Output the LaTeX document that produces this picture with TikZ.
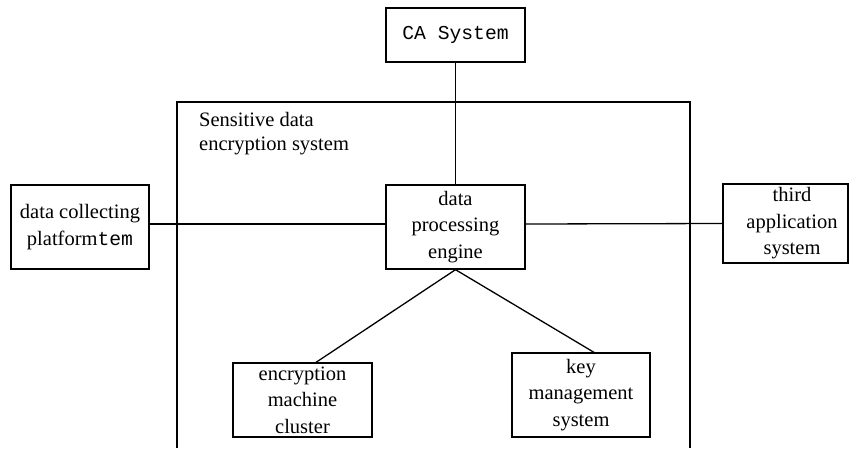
\documentclass[tikz,border=0pt]{standalone}
\usepackage{fontspec}
\setmainfont{Liberation Serif}
\newfontfamily\monofont{Liberation Mono}
\usetikzlibrary{calc}
\begin{document}
\begin{tikzpicture}[x=1pt,y=-1pt,
  box/.style={draw=black,line width=1.3pt,rectangle,inner sep=0pt,align=center,
    font=\fontsize{20.5}{26.5}\selectfont},
  plain/.style={inner sep=0pt,align=center,font=\fontsize{20.5}{26.5}\selectfont},
  conn/.style={draw=black,line width=1.3pt}]
\useasboundingbox (0,0) rectangle (849,448);
% container
\draw[conn] (177,448) -- (177,102) -- (690,102) -- (690,448);
\node[plain,align=left,anchor=north west,font=\fontsize{20.5}{24}\selectfont] (label) at (199,112) {Sensitive data\\encryption system};
% boxes
\node[box,minimum width=139,minimum height=54,font=\monofont\fontsize{19.7}{24}\selectfont] (ca) at (455.5,35) {CA System};
\node[box,minimum width=139,minimum height=84] (proc) at (455.5,227) {data\\processing\\engine};
\node[box,minimum width=138,minimum height=84] (coll) at (80,227) {data collecting\\platform{\monofont\fontsize{19.7}{24}\selectfont tem}};
\node[box,minimum width=125,minimum height=79] (third) at (785.5,223.5) {};
\node[plain] (thirdtext) at (792,223.5) {third\\application\\system};
\node[box,minimum width=139,minimum height=74] (enc) at (302.5,400) {encryption\\machine\\cluster};
\node[box,minimum width=138,minimum height=84] (key) at (581,395) {key\\management\\system};
% connectors
\draw[conn] (ca.south) -- (proc.north);
\draw[conn] ([yshift=3pt]coll.east) -- ([yshift=3pt]proc.west);
\draw[conn] ([yshift=3pt]proc.east) -- (third.west);
\draw[conn] (proc.south) -- ([xshift=13.5pt]enc.north);
\draw[conn] (proc.south) -- ([xshift=13pt]key.north);
\end{tikzpicture}
\end{document}
